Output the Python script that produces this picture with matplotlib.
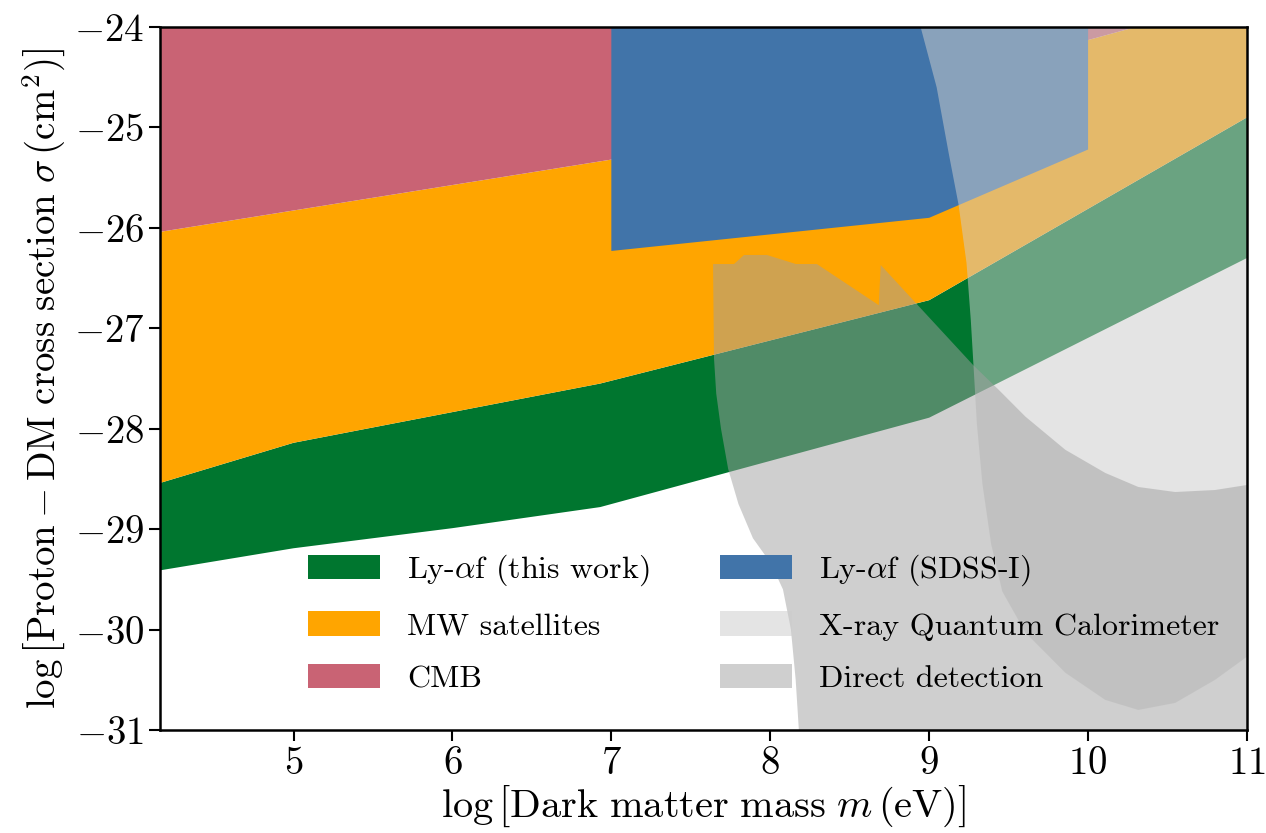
import numpy as np
import matplotlib
matplotlib.use('Agg')
import matplotlib.pyplot as plt
from matplotlib.patches import Patch

plt.rcParams['font.family'] = 'serif'
plt.rcParams['font.serif'] = ['cmr10']
plt.rcParams['mathtext.fontset'] = 'cm'
plt.rcParams['axes.formatter.use_mathtext'] = True

# boundaries (log m [eV], log sigma [cm^2])
lya_low_x = [4.16, 5.0, 6.0, 6.93, 9.0, 11.0]
lya_low_y = [-29.41, -29.19, -28.99, -28.78, -27.89, -26.30]
lya_up_x = [4.16, 5.0, 6.93, 9.0, 11.0]
lya_up_y = [-28.54, -28.14, -27.55, -26.72, -24.90]

cmb_x = [4.16, 7.0, 10.0, 10.3]
cmb_y = [-26.04, -25.32, -24.13, -24.0]

sdss_x = [7.0, 7.0, 9.0, 10.0, 10.0]
sdss_y = [-24.0, -26.23, -25.90, -25.22, -24.0]

xray_x = [8.946, 9.047, 9.122, 9.185, 9.235, 9.262, 9.280, 9.300, 9.335, 9.390, 9.460,
          9.606, 9.857, 10.108, 10.316, 10.548, 10.799, 11.0, 11.0]
xray_y = [-24.0, -24.60, -25.25, -25.77, -26.35, -26.92, -27.40, -27.95, -28.55, -29.15, -29.62,
          -30.03, -30.43, -30.70, -30.80, -30.73, -30.50, -30.27, -24.0]

dd_x = [7.640, 7.772, 7.835, 7.979, 8.161, 8.293, 8.683, 8.695, 9.279, 9.436, 9.606,
        9.857, 10.108, 10.316, 10.548, 10.799, 11.0, 11.0, 8.18, 8.160, 8.130, 8.080, 8.004,
        7.891, 7.800, 7.735, 7.690, 7.660, 7.646]
dd_y = [-26.36, -26.36, -26.27, -26.27, -26.36, -26.36, -26.77, -26.37, -27.37, -27.61, -27.88,
        -28.21, -28.44, -28.58, -28.63, -28.61, -28.56, -31.0, -31.0, -30.50, -30.00, -29.60, -29.34,
        -29.09, -28.75, -28.40, -28.00, -27.65, -27.30]

labels = ['Ly-$\\alpha$f (this work)', 'MW satellites', 'CMB',
          'Ly-$\\alpha$f (SDSS-I)', 'X-ray Quantum Calorimeter', 'Direct detection']

c_green = '#00762f'
c_orange = '#ffa500'
c_cmb = '#c96374'
c_blue = '#4174a9'

fig = plt.figure(figsize=(12.66, 8.33), dpi=100)
ax = fig.add_axes([0.1264, 0.1236, 0.8586, 0.844])

# Ly-a this work
ax.fill(lya_low_x + lya_up_x[::-1], lya_low_y + lya_up_y[::-1], color=c_green, lw=0)
# MW satellites: between Ly-a upper edge and CMB lower edge
ax.fill(lya_up_x + [11.0] + cmb_x[::-1], lya_up_y + [-24.0] + cmb_y[::-1], color=c_orange, lw=0)
# CMB
ax.fill(cmb_x + [4.16], cmb_y + [-24.0], color=c_cmb, lw=0)
# SDSS
ax.fill(sdss_x, sdss_y, color=c_blue, lw=0)
# X-ray QC
ax.fill(xray_x, xray_y, color='#cdcdcd', alpha=0.52, lw=0)
# direct detection
ax.fill(dd_x, dd_y, color='#a0a0a0', alpha=0.5, lw=0)

handles = [Patch(color=c_green, lw=0), Patch(color=c_orange, lw=0), Patch(color=c_cmb, lw=0),
           Patch(color=c_blue, lw=0), Patch(color='#cdcdcd', alpha=0.52, lw=0),
           Patch(color='#a0a0a0', alpha=0.5, lw=0)]
ax.legend(handles, labels, ncol=2, frameon=False, fontsize=23, loc='upper left',
          bbox_to_anchor=(0.136, 0.252), borderpad=0, borderaxespad=0,
          handlelength=2.25, handleheight=0.8, handletextpad=0.85,
          columnspacing=2.2, labelspacing=0.72)

ax.set_xlim(4.16, 11)
ax.set_ylim(-31, -24)
ax.set_xticks([5, 6, 7, 8, 9, 10, 11])
ax.set_yticks([-31, -30, -29, -28, -27, -26, -25, -24])
ax.tick_params(labelsize=28, length=8, width=1.5)
for s in ax.spines.values():
    s.set_linewidth(1.8)

ax.set_xlabel(r'$\log\left[\mathrm{Dark\ matter\ mass}\ m\,(\mathrm{eV})\right]$', fontsize=29,
              labelpad=1)
ax.set_ylabel(r'$\log\left[\mathrm{Proton - DM\ cross\ section}\ \sigma\,(\mathrm{cm}^2)\right]$',
              fontsize=28)

fig.savefig('out.png', dpi=100)
